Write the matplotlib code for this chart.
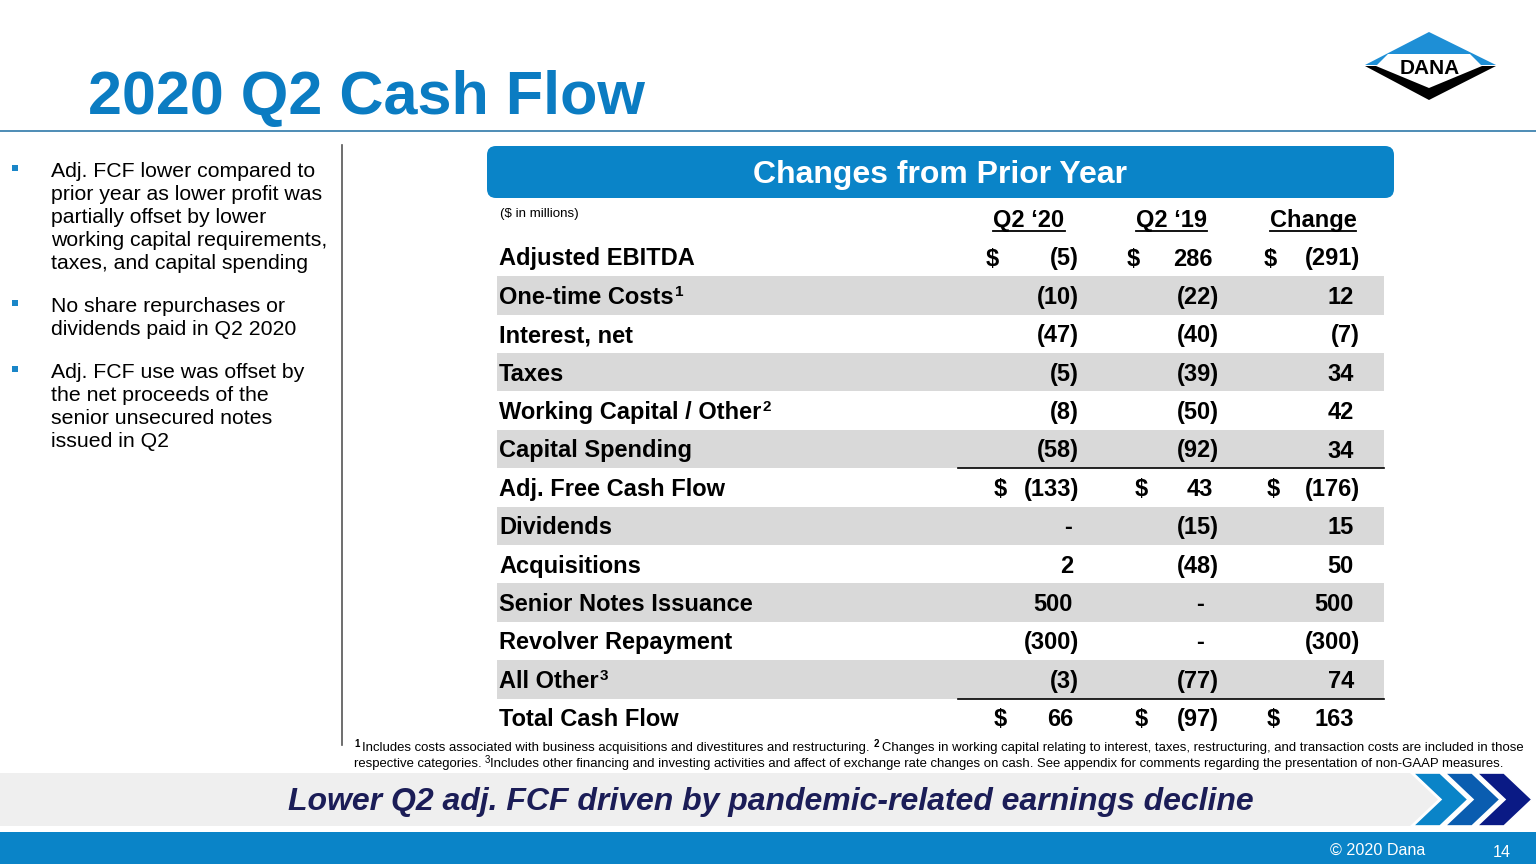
import matplotlib

matplotlib.use("Agg")
import matplotlib.pyplot as plt
from matplotlib.patches import Polygon, Rectangle, FancyBboxPatch

plt.rcParams["font.family"] = ["Liberation Sans", "DejaVu Sans"]

# ---- data ($ in millions) ----
row_labels = [
    "Adjusted EBITDA", "One-time Costs", "Interest, net", "Taxes",
    "Working Capital / Other", "Capital Spending", "Adj. Free Cash Flow",
    "Dividends", "Acquisitions", "Senior Notes Issuance",
    "Revolver Repayment", "All Other", "Total Cash Flow",
]
row_notes = ["", "1", "", "", "2", "", "", "", "", "", "", "3", ""]
q2_20 = [-5, -10, -47, -5, -8, -58, -133, 0, 2, 500, -300, -3, 66]
q2_19 = [286, -22, -40, -39, -50, -92, 43, -15, -48, 0, 0, -77, -97]
change = [-291, 12, -7, 34, 42, 34, -176, 15, 50, 500, -300, 74, 163]
col_headers = ["Q2 \u201820", "Q2 \u201819", "Change"]
dollar_rows = [0, 6, 12]
subtotal_after = [5, 11]

bullets = [
    ["Adj. FCF lower compared to", "prior year as lower profit was",
     "partially offset by lower", "working capital requirements,",
     "taxes, and capital spending"],
    ["No share repurchases or", "dividends paid in Q2 2020"],
    ["Adj. FCF use was offset by", "the net proceeds of the",
     "senior unsecured notes", "issued in Q2"],
]

BLUE = "#0a84c8"
TITLE_BLUE = "#0b7cc2"
NAVY = "#1b1d57"
SHADE = "#d9d9d9"

fig = plt.figure(figsize=(15.36, 8.64), dpi=100)
ax = fig.add_axes([0, 0, 1, 1])
ax.set_xlim(0, 1536)
ax.set_ylim(864, 0)
ax.axis("off")
renderer = fig.canvas.get_renderer()


def runs(x, y, parts, color="black"):
    # parts: (text, size, weight, raise_px, gap_after)
    for txt, size, weight, dy, gap in parts:
        t = ax.text(x, y - dy, txt, fontsize=size, fontweight=weight,
                    color=color, ha="left", va="baseline")
        x += t.get_window_extent(renderer).width + gap
    return x


def fmt(v):
    if v == 0:
        return "-"
    if v < 0:
        return f"({-v})"
    return f"{v}"


# ---- title ----
ax.text(88, 114, "2020 Q2 Cash Flow", fontsize=44, fontweight="bold",
        color=TITLE_BLUE, ha="left", va="baseline")
ax.plot([0, 1536], [131, 131], color="#3f84b0", lw=1.3)

# ---- logo ----
ax.add_patch(Polygon([(1365, 65), (1429, 32), (1496, 65)], closed=True,
                     color="#1e8fd6", lw=0))
ax.add_patch(Polygon([(1365, 66), (1429, 100), (1496, 66)], closed=True,
                     color="black", lw=0))
ax.add_patch(Polygon([(1388, 54), (1470, 54), (1482, 66), (1429, 88), (1376, 66)],
                     closed=True, color="white", lw=0))
ax.text(1430, 74, "DANA", fontsize=15, fontweight="heavy", color="black",
        ha="center", va="baseline")

# ---- left bullets ----
y = 177
for block in bullets:
    ax.add_patch(Rectangle((12, y - 12), 6, 6, color="#1a86c8", lw=0))
    for line in block:
        ax.text(51, y, line, fontsize=15.3, color="black", ha="left", va="baseline")
        y += 23
    y += 20
ax.plot([342, 342], [145, 745], color="#555555", lw=1.2)

# ---- table header ----
ax.add_patch(FancyBboxPatch((487, 146), 907, 52,
                            boxstyle="round,pad=0,rounding_size=9",
                            color=BLUE, lw=0))
ax.text(940, 183, "Changes from Prior Year", fontsize=23, fontweight="bold",
        color="white", ha="center", va="baseline")
ax.text(500, 217, "($ in millions)", fontsize=9.6, color="black",
        ha="left", va="baseline")

col_centers = [1029, 1171, 1313]
for cx, h in zip(col_centers, col_headers):
    t = ax.text(cx, 227, h, fontsize=17, fontweight="bold", color="black",
                ha="center", va="baseline")
    w = t.get_window_extent(renderer).width
    ax.plot([cx - w / 2, cx + w / 2], [231, 231], color="black", lw=1.3)

# ---- table body ----
row0 = 257.0
pitch = 38.4
col_right = [1079, 1219, 1360]
dollar_x = [986, 1127, 1264]
for i, label in enumerate(row_labels):
    yc = row0 + pitch * i
    if i % 2 == 1:
        ax.add_patch(Rectangle((497, yc - pitch / 2), 887, pitch,
                               color=SHADE, lw=0, zorder=0))
    base = yc + 8.5
    parts = [(label, 17, "bold", 0, 1)]
    if row_notes[i]:
        parts.append((row_notes[i], 11, "bold", 8, 0))
    runs(499, base, parts)
    for c, vals in enumerate([q2_20, q2_19, change]):
        v = vals[i]
        s = fmt(v)
        if v < 0:
            xr = col_right[c]
        elif v == 0:
            xr = col_right[c] - (7 if c == 0 else 15)
        else:
            xr = col_right[c] - 6
        ax.text(xr, base, s, fontsize=17, fontweight="bold", color="black",
                ha="right", va="baseline")
        if i in dollar_rows:
            dx = dollar_x[c] + (0 if i == 0 else (8 if c < 2 else 3))
            ax.text(dx, base, "$", fontsize=17, fontweight="bold", color="black",
                    ha="left", va="baseline")
for i in subtotal_after:
    yl = row0 + pitch * (i + 0.5)
    ax.plot([958, 1384], [yl, yl], color="black", lw=1.2)

# ---- footnotes ----
fn = 9.45
runs(354, 751, [
    ("1", 7, "bold", 4, 3),
    ("Includes costs associated with business acquisitions and divestitures "
     "and restructuring.", fn, "normal", 0, 4),
    ("2", 7, "bold", 4, 3),
    ("Changes in working capital relating to interest, taxes, restructuring, "
     "and transaction costs are included in those", fn, "normal", 0, 0),
])
runs(354, 767, [
    ("respective categories.", fn, "normal", 0, 3),
    ("3", 7, "normal", 4, 0),
    ("Includes other financing and investing activities and affect of exchange "
     "rate changes on cash. See appendix for comments regarding the presentation "
     "of non-GAAP measures.", fn, "normal", 0, 0),
])

# ---- bottom banner with chevrons ----
top, bot, mid = 773, 826, 799.5
ax.add_patch(Polygon([(0, top), (1410, top), (1438, mid), (1410, bot), (0, bot)],
                     closed=True, color="#efefef", lw=0))
for x0, col in [(1413, "#0a84c8"), (1445, "#0a5db0"), (1477, "#0a1a85")]:
    ax.add_patch(Polygon([(x0, top), (x0 + 27, top), (x0 + 55, mid),
                          (x0 + 27, bot), (x0, bot), (x0 + 28, mid)],
                         closed=True, facecolor=col, edgecolor="white", lw=1.2))
ax.text(771, 810, "Lower Q2 adj. FCF driven by pandemic-related earnings decline",
        fontsize=23, fontweight="bold", fontstyle="italic", color=NAVY,
        ha="center", va="baseline")

# ---- footer ----
ax.add_patch(Rectangle((0, 832), 1536, 32, color=BLUE, lw=0))
ax.text(1330, 855, "\u00a9 2020 Dana", fontsize=11.6, color="white",
        ha="left", va="baseline")
ax.text(1493, 857, "14", fontsize=11.6, color="white", ha="left", va="baseline")

fig.savefig("out.png", dpi=100)
